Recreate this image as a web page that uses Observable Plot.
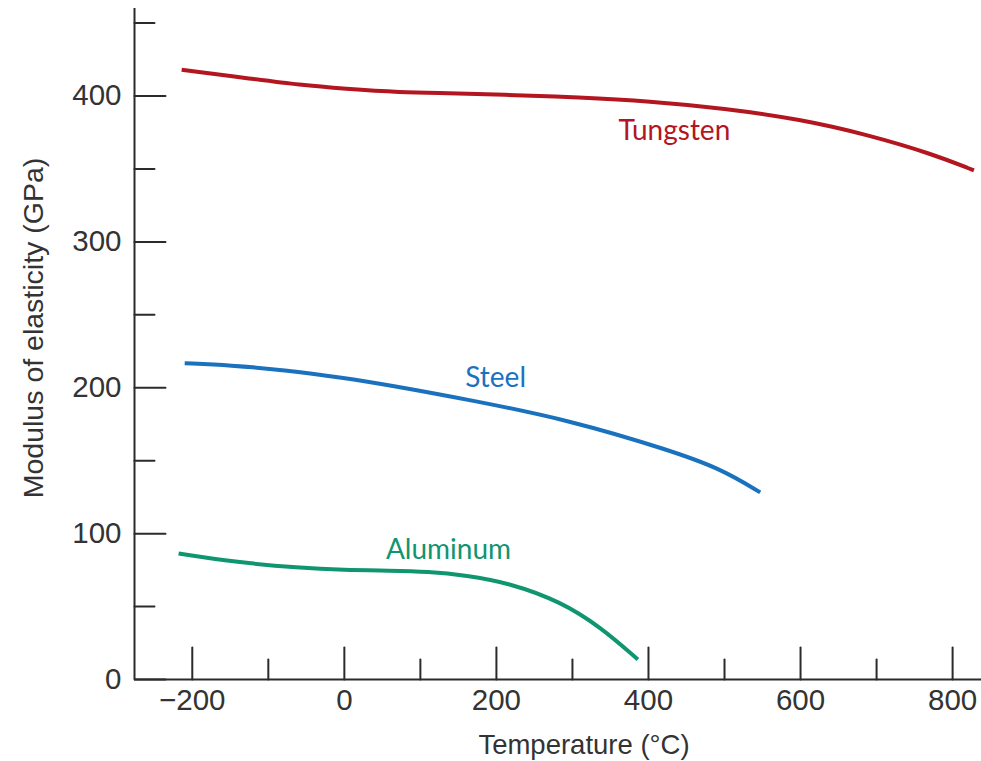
<!DOCTYPE html>
<html>
<head>
<meta charset="utf-8">
<script src="https://cdn.jsdelivr.net/npm/d3@7"></script>
<script src="https://cdn.jsdelivr.net/npm/@observablehq/plot@0.6"></script>
<style>
  body { margin: 0; background: #fff; }
  #chart svg { display: block; }
</style>
</head>
<body>
<div id="chart"></div>
<script>
// Modulus of elasticity versus temperature for three metals
const tungstenTemp    = [-214, -124, -58, 0, 74, 136, 205, 311, 400, 500, 600, 688, 775, 828];
const tungstenModulus = [418, 412, 407.5, 405, 402.5, 402, 401, 399, 396.5, 391.5, 384, 373.5, 360, 349];

const steelTemp    = [-210, -150, -80, 0, 57, 166, 297, 429, 495, 547];
const steelModulus = [216.8, 215.4, 212.3, 206.8, 202, 191.6, 177.7, 157, 144.5, 128.3];

const aluminumTemp    = [-218, -141, -60, 0, 60, 110, 160, 218, 284, 337, 386];
const aluminumModulus = [86.4, 80.3, 76.5, 75, 74.6, 74, 71.4, 66, 53.5, 36, 13.7];

// Series names, colours and where their names sit (temperature, modulus)
const seriesNames  = ["Tungsten", "Steel", "Aluminum"];
const seriesColors = ["#b3161f", "#1a72bf", "#0f9570"];
const labelTemp    = [434, 199, 137];
const labelModulus = [376, 207, 88.5];

// Axis ticks
const xMajorTicks = [-200, 0, 200, 400, 600, 800];
const xMinorTicks = [-100, 100, 300, 500, 700];
const yMajorTicks = [0, 100, 200, 300, 400];
const yMinorTicks = [50, 150, 250, 350, 450];

const xDomain = [-276, 838];
const yDomain = [0, 460];

const xTitle = "Temperature (\u00B0C)";
const yTitle = "Modulus of elasticity (GPa)";

const rows = [
  ...tungstenTemp.map((t, i) => ({series: "Tungsten", temp: t, modulus: tungstenModulus[i]})),
  ...steelTemp.map((t, i) => ({series: "Steel", temp: t, modulus: steelModulus[i]})),
  ...aluminumTemp.map((t, i) => ({series: "Aluminum", temp: t, modulus: aluminumModulus[i]}))
];
const labels = seriesNames.map((name, i) => ({name, temp: labelTemp[i], modulus: labelModulus[i]}));

// A plain line segment pointing from the anchor, used for inward ticks
const tickShape = {draw(context, length) { context.moveTo(0, 0); context.lineTo(0, -length); }};
const axisColor = "#2b2b2b";

const chart = Plot.plot({
  width: 981,
  height: 761,
  marginLeft: 134,
  marginRight: 0,
  marginTop: 8,
  marginBottom: 82,
  style: {fontFamily: "'Liberation Sans', Arial, sans-serif", color: "#333", background: "#fff"},
  x: {domain: xDomain, axis: null},
  y: {domain: yDomain, axis: null},
  color: {domain: seriesNames, range: seriesColors},
  marks: [
    // axis lines
    Plot.ruleY([yDomain[0]], {stroke: axisColor, strokeWidth: 2}),
    Plot.ruleX([xDomain[0]], {stroke: axisColor, strokeWidth: 2}),
    // inward ticks on the x axis
    Plot.vector(xMajorTicks, {x: d => d, frameAnchor: "bottom", length: 32, rotate: 0, anchor: "start", shape: tickShape, stroke: axisColor, strokeWidth: 2}),
    Plot.vector(xMinorTicks, {x: d => d, frameAnchor: "bottom", length: 20, rotate: 0, anchor: "start", shape: tickShape, stroke: axisColor, strokeWidth: 2}),
    // inward ticks on the y axis
    Plot.vector(yMajorTicks, {y: d => d, frameAnchor: "left", length: 31, rotate: 90, anchor: "start", shape: tickShape, stroke: axisColor, strokeWidth: 2}),
    Plot.vector(yMinorTicks, {y: d => d, frameAnchor: "left", length: 20, rotate: 90, anchor: "start", shape: tickShape, stroke: axisColor, strokeWidth: 2}),
    // tick labels
    Plot.axisX(xMajorTicks, {tickSize: 0, tickPadding: 10, fontSize: 29.5, label: null, fill: "#333"}),
    Plot.axisY(yMajorTicks, {tickSize: 0, tickPadding: 13, fontSize: 29.5, label: null, fill: "#333"}),
    // axis titles
    Plot.text([xTitle], {text: d => d, frameAnchor: "bottom", dx: 26, dy: 66, fontSize: 27.5, textAnchor: "middle", lineAnchor: "middle", fill: "#333"}),
    Plot.text([yTitle], {text: d => d, frameAnchor: "left", dx: -101, dy: -16, rotate: -90, fontSize: 28.5, textAnchor: "middle", lineAnchor: "middle", fill: "#333"}),
    // curves, smoothed through the read-off points
    Plot.line(rows, {x: "temp", y: "modulus", z: "series", stroke: "series", strokeWidth: 4, curve: "basis", strokeLinecap: "butt"}),
    // series names
    Plot.text(labels, {x: "temp", y: "modulus", text: "name", fill: "name", fontSize: 28, fontFamily: "Lato, 'Open Sans', sans-serif", textAnchor: "middle", lineAnchor: "middle"})
  ]
});

document.getElementById("chart").appendChild(chart);
</script>
</body>
</html>
